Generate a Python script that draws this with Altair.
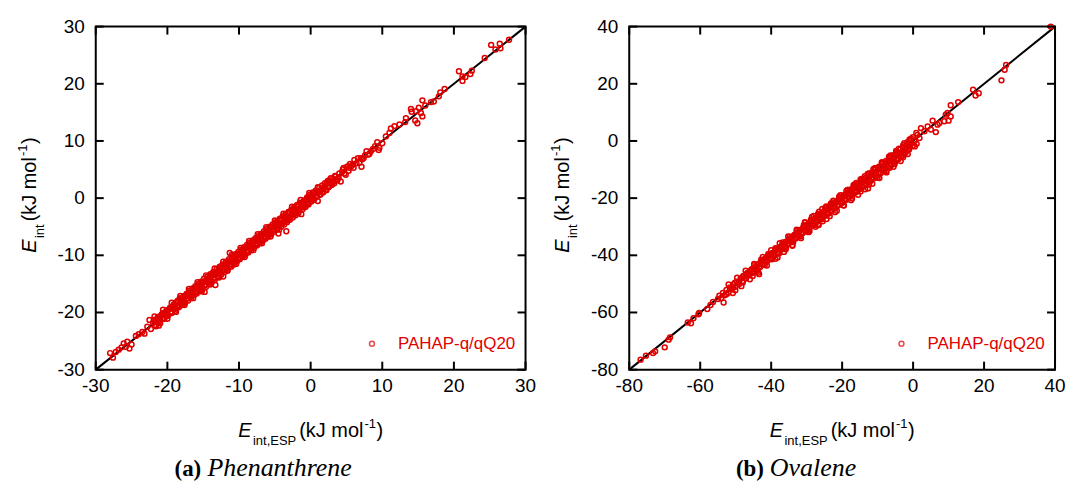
import altair as alt
import pandas as pd

RED = "#e00000"
SANS = "Liberation Sans"
SERIF = "Liberation Serif"
H = 344
W_LEFT, W_RIGHT = 431, 427

# ---------------- data ----------------
phen_domain = [-30, 30]
phen_ticks = [-30, -20, -10, 0, 10, 20, 30]
phen_tick_labels = ["-30", "-20", "-10", "0", "10", "20", "30"]
oval_domain = [-80, 40]
oval_ticks = [-80, -60, -40, -20, 0, 20, 40]
oval_tick_labels = ["-80", "-60", "-40", "-20", "0", "20", "40"]
legend_label = "PAHAP-q/qQ20"

# Phenanthrene: (E_int,ESP , E_int)
phen_tails = [
    (-28.0, -27.1), (-27.6, -27.9), (-27.2, -26.9), (-26.8, -26.5), (-26.4, -26.1), (-26.1, -25.4),
    (-25.8, -26.0), (-25.6, -25.1), (-25.3, -26.3), (-25.0, -25.6), (-24.4, -24.1), (-24.0, -23.8),
    (-23.5, -23.4), (-23.2, -23.7), (-22.8, -22.5), (-22.5, -21.3), (-22.3, -22.9),
    (8.0, 7.6), (8.4, 8.2), (8.7, 8.6), (9.0, 9.1), (9.3, 9.8), (9.5, 8.4), (9.6, 8.8), (10.0, 9.6),
    (10.5, 10.8), (11.0, 11.4), (11.2, 12.2), (11.7, 12.6), (12.4, 12.9), (13.2, 13.3), (13.3, 14.0),
    (14.0, 15.6), (14.1, 15.1), (14.6, 13.6), (14.7, 15.2), (14.9, 13.1), (15.1, 15.8), (15.4, 14.9),
    (15.6, 14.3), (15.6, 17.1), (16.0, 16.2), (16.8, 16.8), (17.2, 16.9), (17.9, 17.8), (18.1, 18.5),
    (18.7, 19.1), (20.7, 22.2), (21.2, 21.3), (21.2, 20.5), (21.6, 21.2), (22.3, 21.7), (22.5, 22.3),
    (24.3, 24.5), (25.2, 26.8), (25.8, 26.0), (26.4, 27.0), (26.5, 26.2), (27.7, 27.7),
]
phen_band_a = [
    (-22.0, -21.8), (-21.7, -22.2), (-21.4, -21.0), (-21.1, -21.5), (-20.8, -20.4), (-20.6, -21.0),
    (-20.3, -20.0), (-20.0, -20.6), (-19.8, -19.5), (-19.5, -19.9), (-19.3, -19.0), (-19.0, -19.4),
    (-18.8, -18.3), (-18.5, -18.9), (-18.3, -17.6), (-18.1, -18.5), (-17.8, -17.9), (-17.6, -18.4),
    (-17.4, -17.0), (-17.2, -17.5), (-17.0, -16.6), (-16.8, -17.2), (-16.6, -16.3), (-16.4, -16.9),
    (-16.2, -15.8), (-16.0, -16.4), (-15.8, -15.5), (-15.6, -16.1), (-15.4, -15.0), (-15.2, -15.7),
    (-15.0, -14.6), (-14.8, -16.4), (-14.7, -15.2), (-14.5, -14.2), (-14.3, -14.8), (-14.1, -13.8),
    (-13.9, -14.5), (-13.7, -13.3), (-13.5, -14.0), (-13.3, -15.2), (-13.2, -12.9), (-13.0, -13.6),
    (-12.8, -12.3), (-12.6, -13.1), (-12.4, -12.0), (-12.2, -13.7), (-12.1, -12.5), (-11.9, -11.6),
    (-11.7, -12.2), (-11.5, -11.1), (-11.3, -9.6), (-11.2, -11.8), (-11.0, -10.7), (-10.8, -11.3),
    (-10.6, -10.3), (-10.4, -10.9), (-10.2, -9.8), (-10.0, -10.5), (-9.8, -9.5), (-9.6, -10.1),
    (-9.4, -9.1), (-9.2, -9.7), (-9.0, -8.7), (-8.8, -9.3), (-8.6, -8.2), (-8.4, -8.8), (-8.2, -7.9),
    (-8.0, -8.5), (-7.8, -7.4), (-7.6, -8.1), (-7.4, -7.1), (-7.2, -7.7), (-7.0, -6.6), (-6.8, -7.3),
    (-6.6, -6.3), (-6.4, -6.9), (-6.2, -5.8), (-6.0, -6.5), (-5.8, -5.5), (-5.6, -6.1), (-5.4, -5.0),
    (-5.2, -5.6), (-5.0, -4.6), (-4.8, -5.3), (-4.6, -4.2), (-4.5, -6.2), (-4.4, -4.8), (-4.2, -3.8),
    (-4.0, -4.5), (-3.8, -3.5), (-3.6, -4.1), (-3.4, -5.8), (-3.4, -3.1), (-3.2, -3.7), (-3.0, -2.6),
    (-2.8, -3.3), (-2.6, -2.3), (-2.4, -2.9), (-2.2, -1.8), (-2.0, -2.5), (-1.8, -1.5), (-1.6, -2.1),
    (-1.4, -1.0), (-1.3, -2.8), (-1.2, -1.6), (-1.0, -0.6), (-0.8, -1.2), (-0.6, -0.3), (-0.4, -0.9),
    (-0.2, 0.2), (0.0, -0.5), (0.2, 0.5), (0.4, -0.1), (0.6, 0.8), (0.8, 0.2), (1.0, -0.5), (1.1, 1.2),
    (1.3, 0.6), (1.5, 1.6), (1.7, 1.0), (1.9, 2.1), (2.1, 1.5), (2.3, 2.6), (2.5, 1.9), (2.7, 2.9),
    (2.9, 2.3), (3.1, 3.4), (3.3, 2.6), (3.5, 3.8), (3.7, 3.1), (4.0, 4.3), (4.2, 2.9), (4.4, 4.6),
    (4.7, 4.3), (5.0, 5.4), (5.3, 4.8), (5.4, 5.3), (5.7, 5.6), (5.9, 5.9), (6.1, 6.7), (6.4, 6.1),
    (6.8, 6.2), (7.0, 7.0), (7.1, 5.5), (7.4, 7.0), (7.6, 7.5),
]
phen_band_b = [
    (-21.9, -21.3), (-21.6, -22.4), (-21.3, -20.8), (-21.0, -21.9), (-20.7, -20.2), (-20.4, -21.1),
    (-20.1, -19.6), (-19.9, -20.5), (-19.6, -19.1), (-19.4, -20.1), (-19.1, -18.6), (-18.9, -19.7),
    (-18.6, -18.0), (-18.4, -19.1), (-18.2, -17.5), (-17.9, -18.7), (-17.7, -17.1), (-17.5, -18.2),
    (-17.3, -16.7), (-17.1, -17.9), (-16.9, -16.2), (-16.7, -17.5), (-16.5, -15.8), (-16.3, -17.0),
    (-16.1, -15.4), (-15.9, -16.7), (-15.7, -15.0), (-15.5, -16.3), (-15.3, -14.6), (-15.1, -15.9),
    (-14.9, -14.1), (-14.6, -15.5), (-14.4, -13.7), (-14.2, -15.0), (-14.0, -13.3), (-13.8, -14.7),
    (-13.6, -12.9), (-13.4, -14.3), (-13.1, -12.4), (-12.9, -13.8), (-12.7, -12.0), (-12.5, -13.4),
    (-12.3, -11.6), (-12.0, -12.9), (-11.8, -11.1), (-11.6, -12.5), (-11.4, -10.7), (-11.1, -12.0),
    (-10.9, -10.2), (-10.7, -11.6), (-10.5, -9.8), (-10.3, -11.1), (-10.1, -9.4), (-9.9, -10.7),
    (-9.7, -9.0), (-9.5, -10.3), (-9.3, -8.6), (-9.1, -9.9), (-8.9, -8.2), (-8.7, -9.5), (-8.5, -7.8),
    (-8.3, -9.1), (-8.1, -7.4), (-7.9, -8.7), (-7.7, -7.0), (-7.5, -8.3), (-7.3, -6.6), (-7.1, -7.9),
    (-6.9, -6.2), (-6.7, -7.5), (-6.5, -5.8), (-6.3, -7.1), (-6.1, -5.4), (-5.9, -6.7), (-5.7, -5.0),
    (-5.5, -6.3), (-5.3, -4.6), (-5.1, -5.9), (-4.9, -4.2), (-4.7, -5.5), (-4.3, -3.6), (-4.1, -5.0),
    (-3.9, -3.2), (-3.7, -4.6), (-3.5, -2.8), (-3.3, -4.2), (-3.1, -2.4), (-2.9, -3.8), (-2.7, -2.0),
    (-2.5, -3.4), (-2.3, -1.6), (-2.1, -3.0), (-1.9, -1.2), (-1.7, -2.6), (-1.5, -0.8), (-1.1, -1.9),
    (-0.9, -0.4), (-0.7, -1.5), (-0.5, 0.1), (-0.3, -1.1), (-0.1, 0.6), (0.1, -0.6), (0.3, 1.0),
    (0.5, -0.2), (0.7, 1.3), (0.9, 0.4), (1.2, 1.8), (1.4, 0.7), (1.6, 2.2), (1.8, 1.1), (2.0, 2.6),
    (2.2, 1.4), (2.4, 3.0), (2.6, 2.1), (2.8, 3.5), (3.0, 2.4), (3.4, 3.9), (3.8, 3.4), (4.5, 5.0),
    (4.9, 4.1), (5.5, 6.0), (6.0, 5.3), (6.6, 7.0), (7.2, 6.8), (7.8, 8.2), (8.2, 7.7),
]
phen_band_c = [
    (-21.8, -20.7), (-21.5, -21.6), (-21.2, -22.3), (-20.9, -20.6), (-20.6, -19.5), (-20.3, -20.4),
    (-20.0, -21.1), (-19.7, -19.4), (-19.4, -18.3), (-19.1, -19.2), (-18.8, -19.9), (-18.5, -18.2),
    (-18.2, -17.1), (-17.9, -18.0), (-17.6, -18.7), (-17.3, -17.0), (-17.0, -15.9), (-16.7, -16.8),
    (-16.4, -17.5), (-16.1, -15.8), (-15.8, -14.7), (-15.5, -15.6), (-15.2, -16.3), (-14.9, -14.6),
    (-14.6, -13.5), (-14.3, -14.4), (-14.0, -15.1), (-13.7, -13.4), (-13.4, -12.3), (-13.1, -13.2),
    (-12.8, -13.9), (-12.5, -12.2), (-12.2, -11.1), (-11.9, -12.0), (-11.6, -12.7), (-11.3, -11.0),
    (-11.0, -9.9), (-10.7, -10.8), (-10.4, -11.5), (-10.1, -9.8), (-9.8, -8.7), (-9.5, -9.6),
    (-9.2, -10.3), (-8.9, -8.6), (-8.6, -7.5), (-8.3, -8.4), (-8.0, -9.1), (-7.7, -7.4), (-7.4, -6.3),
    (-7.1, -7.2), (-6.8, -7.9), (-6.5, -6.2), (-6.2, -5.1), (-5.9, -6.0), (-5.6, -6.7), (-5.3, -5.0),
    (-5.0, -3.9), (-4.7, -4.8), (-4.4, -5.5), (-4.1, -3.8), (-3.8, -2.7), (-3.5, -3.6), (-3.2, -3.9),
    (-2.9, -2.6), (-2.6, -1.5), (-2.3, -2.4), (-2.0, -2.7), (-1.7, -1.4), (-1.4, -0.3), (-1.1, -1.2),
    (-0.8, -1.5), (-0.5, -0.2), (-0.2, 0.9), (0.1, 0.0), (0.4, -0.3), (0.7, 1.0), (1.0, 1.9),
    (1.3, 1.2), (2.0, 1.9), (2.6, 3.1), (3.2, 2.9), (3.9, 3.6), (4.6, 5.3), (5.2, 5.6),
]
phen_band_d = [
    (-21.65, -21.3), (-21.35, -21.7), (-21.05, -20.7), (-20.75, -21.1), (-20.45, -20.1),
    (-20.15, -20.5), (-19.85, -19.5), (-19.55, -19.9), (-19.25, -18.9), (-18.95, -19.3),
    (-18.65, -18.3), (-18.35, -18.7), (-18.05, -17.7), (-17.75, -18.1), (-17.45, -17.1),
    (-17.15, -17.5), (-16.85, -16.5), (-16.55, -16.9), (-16.25, -15.9), (-15.95, -16.3),
    (-15.65, -15.3), (-15.35, -15.7), (-15.05, -14.7), (-14.75, -15.1), (-14.45, -14.1),
    (-14.15, -14.5), (-13.85, -13.5), (-13.55, -13.9), (-13.25, -12.9), (-12.95, -13.3),
    (-12.65, -12.3), (-12.35, -12.7), (-12.05, -11.7), (-11.75, -12.1), (-11.45, -11.1),
    (-11.15, -11.5), (-10.85, -10.5), (-10.55, -10.9), (-10.25, -9.9), (-9.95, -10.3),
    (-9.65, -9.3), (-9.35, -9.7), (-9.05, -8.7), (-8.75, -9.1), (-8.45, -8.1), (-8.15, -8.5),
    (-7.85, -7.5), (-7.55, -7.9), (-7.25, -6.9), (-6.95, -7.3), (-6.65, -6.3), (-6.35, -6.7),
    (-6.05, -5.7), (-5.75, -6.1), (-5.45, -5.1), (-5.15, -5.5), (-4.85, -4.5), (-4.55, -4.9),
    (-4.25, -3.9), (-3.95, -4.3), (-3.65, -3.3), (-3.35, -3.7), (-3.05, -2.7), (-2.75, -3.1),
    (-2.45, -2.1), (-2.15, -2.5), (-1.85, -1.5), (-1.55, -1.9), (-1.25, -0.9), (-0.95, -1.3),
    (-0.65, -0.3), (-0.35, -0.7), (-0.05, 0.3), (0.25, -0.1),
]

# Ovalene: (E_int,ESP , E_int)
oval_tails = [
    (-76.8, -76.5), (-75.3, -75.1), (-73.3, -74.2), (-72.7, -73.6), (-70.0, -72.2), (-68.9, -69.5),
    (-68.5, -68.7), (-63.5, -63.5), (-62.6, -63.8), (-61.9, -62.0), (-60.5, -60.6), (-60.3, -60.2),
    (-58.0, -58.8), (-57.1, -57.4), (-56.4, -56.3), (-55.0, -55.3), (-53.4, -56.5), (-52.6, -53.6),
    (-50.8, -51.3), (-50.1, -52.2), (-48.0, -49.5), (-45.2, -47.2), (-43.4, -46.6), (-38.2, -40.8),
    (-35.9, -37.9), (-34.0, -36.7), (-30.3, -31.3), (-26.6, -29.4), (-12.7, -16.6), (-6.6, -9.4),
    (-0.1, 1.3), (0.9, 2.8), (1.8, 1.0), (2.2, 4.5), (3.2, 3.4), (4.1, 5.1), (5.0, 4.0), (5.5, 7.1),
    (6.4, 3.1), (6.9, 5.7), (7.4, 6.3), (8.8, 6.9), (9.2, 9.2), (9.7, 9.8), (10.0, 7.1), (10.6, 8.6),
    (10.6, 12.5), (12.7, 13.6), (16.9, 17.9), (17.6, 15.9), (18.5, 16.7), (24.9, 21.2), (25.8, 24.9),
    (26.2, 26.6), (38.8, 40.0),
]
oval_band_a = [
    (-54.6, -54.1), (-54.1, -55.0), (-53.6, -53.2), (-53.1, -54.0), (-52.6, -52.1), (-52.1, -53.1),
    (-51.6, -51.2), (-51.1, -52.0), (-50.6, -50.1), (-50.1, -51.0), (-49.6, -49.2), (-49.1, -50.1),
    (-48.6, -48.1), (-48.1, -49.0), (-47.6, -47.2), (-47.1, -48.1), (-46.6, -46.1), (-46.1, -47.0),
    (-45.6, -45.1), (-45.1, -46.1), (-44.6, -44.2), (-44.1, -45.0), (-43.6, -43.1), (-43.1, -44.1),
    (-42.6, -42.2), (-42.1, -43.0), (-41.6, -41.1), (-41.1, -42.1), (-40.6, -40.2), (-40.1, -41.1),
    (-39.6, -39.2), (-39.1, -40.1), (-38.6, -38.1), (-38.1, -39.1), (-37.6, -37.2), (-37.1, -38.0),
    (-36.6, -36.1), (-36.1, -37.1), (-35.6, -35.2), (-35.1, -36.0), (-34.6, -34.1), (-34.1, -35.1),
    (-33.6, -33.2), (-33.1, -34.1), (-32.6, -32.0), (-32.1, -33.2), (-31.6, -31.0), (-31.1, -32.2),
    (-30.6, -30.1), (-30.1, -31.3), (-29.6, -29.0), (-29.1, -30.2), (-28.6, -28.1), (-28.1, -29.3),
    (-27.6, -27.0), (-27.1, -28.3), (-26.6, -26.0), (-26.1, -27.4), (-25.6, -25.0), (-25.1, -26.4),
    (-24.6, -24.0), (-24.1, -25.5), (-23.6, -23.0), (-23.1, -24.5), (-22.6, -22.0), (-22.1, -23.6),
    (-21.6, -21.0), (-21.1, -22.6), (-20.6, -20.0), (-20.1, -21.7), (-19.6, -19.0), (-19.1, -20.7),
    (-18.6, -18.0), (-18.1, -19.8), (-17.6, -17.0), (-17.1, -18.8), (-16.6, -16.0), (-16.1, -17.9),
    (-15.6, -15.0), (-15.1, -16.9), (-14.6, -14.0), (-14.1, -16.0), (-13.6, -13.0), (-13.1, -15.0),
    (-12.6, -12.0), (-12.1, -14.1), (-11.6, -11.0), (-11.1, -13.1), (-10.6, -10.0), (-10.1, -12.2),
    (-9.6, -9.0), (-9.1, -11.2), (-8.6, -8.0), (-8.1, -10.3), (-7.6, -7.0), (-7.1, -9.3), (-6.6, -6.0),
    (-6.1, -8.4), (-5.6, -5.0), (-5.1, -7.4), (-4.6, -4.0), (-4.1, -6.3), (-3.6, -3.0), (-3.1, -5.2),
    (-2.6, -2.1), (-2.1, -4.0), (-1.6, -1.5), (-1.1, -2.9), (-0.6, -0.9), (-0.1, -1.8), (0.4, 0.0),
    (1.0, -1.0), (-2.5, -0.8), (-1.0, 0.5), (1.2, 2.1),
]
oval_band_b = [
    (-47.9, -47.4), (-47.4, -47.9), (-46.9, -46.4), (-46.4, -46.9), (-45.9, -45.4), (-45.4, -45.9),
    (-44.9, -44.4), (-44.4, -44.9), (-43.9, -43.4), (-43.4, -43.9), (-42.9, -42.4), (-42.4, -42.9),
    (-41.9, -41.4), (-41.4, -41.9), (-40.9, -40.4), (-40.4, -40.9), (-39.9, -39.4), (-39.4, -39.9),
    (-38.9, -38.4), (-38.4, -38.9), (-37.9, -37.4), (-37.4, -37.9), (-36.9, -36.4), (-36.4, -36.9),
    (-35.9, -35.4), (-35.4, -35.9), (-34.9, -34.4), (-34.4, -34.9), (-33.9, -33.4), (-33.4, -33.9),
    (-32.9, -32.4), (-32.4, -32.9), (-31.9, -31.4), (-31.4, -31.9), (-30.9, -30.4), (-30.4, -30.9),
    (-29.9, -29.4), (-29.4, -29.9), (-28.9, -28.5), (-28.4, -29.1), (-27.9, -27.5), (-27.4, -28.1),
    (-26.9, -26.5), (-26.4, -27.2), (-25.9, -25.5), (-25.4, -26.3), (-24.9, -24.5), (-24.4, -25.3),
    (-23.9, -23.5), (-23.4, -24.4), (-22.9, -22.6), (-22.4, -23.4), (-21.9, -21.6), (-21.4, -22.5),
    (-20.9, -20.6), (-20.4, -21.5), (-19.9, -19.6), (-19.4, -20.6), (-18.9, -18.7), (-18.4, -19.6),
    (-17.9, -17.7), (-17.4, -18.7), (-16.9, -16.7), (-16.4, -17.8), (-15.9, -15.8), (-15.4, -16.8),
    (-14.9, -14.8), (-14.4, -15.9), (-13.9, -13.8), (-13.4, -14.9), (-12.9, -12.9), (-12.4, -14.0),
    (-11.9, -11.9), (-11.4, -13.0), (-10.9, -10.9), (-10.4, -12.1), (-9.9, -10.0), (-9.4, -11.1),
    (-8.9, -9.0), (-8.4, -10.2), (-7.9, -8.0), (-7.4, -9.2), (-6.9, -7.1), (-6.4, -8.3), (-5.9, -6.1),
    (-5.4, -7.3), (-4.9, -5.1), (-4.4, -6.4), (-3.9, -4.2), (-3.4, -5.4), (-2.9, -3.2), (-2.4, -4.4),
    (-1.9, -2.3), (-1.4, -3.1),
]
oval_band_c = [
    (-52.0, -50.2), (-51.4, -51.7), (-50.8, -53.2), (-50.2, -49.6), (-49.6, -47.8), (-49.0, -49.3),
    (-48.4, -50.8), (-47.8, -47.2), (-47.2, -45.4), (-46.6, -46.9), (-46.0, -48.4), (-45.4, -44.8),
    (-44.8, -43.0), (-44.2, -44.5), (-43.6, -46.0), (-43.0, -42.4), (-42.4, -40.6), (-41.8, -42.1),
    (-41.2, -43.6), (-40.6, -40.0), (-40.0, -38.2), (-39.4, -39.7), (-38.8, -41.2), (-38.2, -37.6),
    (-37.6, -35.8), (-37.0, -37.3), (-36.4, -38.8), (-35.8, -35.2), (-35.2, -33.4), (-34.6, -34.9),
    (-34.0, -36.4), (-33.4, -32.8), (-32.8, -31.0), (-32.2, -32.5), (-31.6, -34.0), (-31.0, -30.4),
    (-30.4, -28.6), (-29.8, -30.1), (-29.2, -31.6), (-28.6, -28.0), (-28.0, -26.2), (-27.4, -27.7),
    (-26.8, -29.2), (-26.2, -25.6), (-25.6, -23.8), (-25.0, -25.8), (-24.4, -27.3), (-23.8, -23.7),
    (-23.2, -21.9), (-22.6, -23.4), (-22.0, -24.9), (-21.4, -21.3), (-20.8, -19.5), (-20.2, -21.0),
    (-19.6, -22.5), (-19.0, -18.9), (-18.4, -17.1), (-17.8, -18.6), (-17.2, -20.1), (-16.6, -16.5),
    (-16.0, -14.7), (-15.4, -16.2), (-14.8, -17.7), (-14.2, -14.1), (-13.6, -12.3), (-13.0, -13.8),
    (-12.4, -15.3), (-11.8, -11.7), (-11.2, -9.9), (-10.6, -11.4), (-10.0, -12.9), (-9.4, -9.3),
    (-8.8, -7.5), (-8.2, -9.0), (-7.6, -10.5), (-7.0, -6.9), (-6.4, -5.1), (-5.8, -6.6), (-5.2, -8.1),
    (-4.6, -4.5), (-4.0, -2.7), (-3.4, -4.2), (-2.8, -5.7), (-2.2, -2.1), (-1.6, -0.4), (-1.0, -1.7),
]
oval_band_d = [
    (-30.5, -28.4), (-29.5, -31.9), (-28.5, -26.6), (-27.5, -30.0), (-26.5, -24.7), (-25.5, -28.1),
    (-24.5, -22.9), (-23.5, -26.3), (-22.5, -20.9), (-21.5, -24.4), (-20.5, -19.0), (-19.5, -22.6),
    (-18.5, -17.1), (-17.5, -20.7), (-16.5, -15.2), (-15.5, -18.8), (-14.5, -13.3), (-13.5, -16.9),
    (-12.5, -11.4), (-11.5, -15.0), (-10.5, -9.5), (-9.5, -13.0), (-8.5, -7.6), (-7.5, -11.0),
    (-6.5, -5.7), (-5.5, -9.0), (-4.5, -3.8), (-3.5, -7.0), (-2.5, -2.0), (-1.5, -4.6), (-0.5, 0.8),
    (0.5, -1.9),
]
oval_band_e = [
    (-44.8, -43.5), (-43.8, -45.4), (-42.8, -41.5), (-41.8, -43.4), (-40.8, -39.5), (-39.8, -41.4),
    (-38.8, -37.5), (-37.8, -39.4), (-36.8, -35.5), (-35.8, -37.4), (-34.8, -33.5), (-33.8, -35.4),
    (-32.8, -31.5), (-31.8, -33.4), (-30.8, -29.5), (-29.8, -31.4), (-28.8, -27.5), (-27.8, -29.4),
    (-26.8, -25.5), (-25.8, -27.4), (-24.8, -23.5), (-23.8, -25.4), (-22.8, -21.5), (-21.8, -23.4),
    (-20.8, -19.5), (-19.8, -21.4), (-18.8, -17.5), (-17.8, -19.4), (-16.8, -15.5), (-15.8, -17.4),
    (-14.8, -13.5), (-13.8, -15.4), (-12.8, -11.5), (-11.8, -13.4), (-10.8, -9.5), (-9.8, -11.4),
    (-8.8, -7.5), (-7.8, -9.4), (-6.8, -5.5), (-5.8, -7.4), (-4.8, -3.5), (-3.8, -5.4), (-2.8, -1.5),
    (-1.8, -3.4), (-0.8, 0.4),
]

# ---------------- text layout helpers ----------------
ARIAL_W = {"E": .667, "i": .222, "n": .556, "t": .278, ",": .278, "S": .667, "P": .667,
           "(": .333, "k": .5, "J": .5, " ": .278, "m": .833, "o": .556, "l": .222,
           ")": .333, "-": .333, "1": .556}


def tw(s, size):
    return sum(ARIAL_W.get(c, .556) for c in s) * size


MAIN, SMALL = 20, 13


def title_parts(sub):
    # (text, size, baseline shift, italic, gap after)
    return [("E", MAIN, 0.0, True, 1.5), (sub, SMALL, 8.0, False, 3.0),
            ("(kJ mol", MAIN, 0.0, False, 1.0), ("-1", SMALL, -9.0, False, 0.5),
            (")", MAIN, 0.0, False, 0.0)]


def piece(s, x, y, size, angle=0, italic=False, bold=False, font=SANS, color="black"):
    return alt.Chart(pd.DataFrame({"t": [s]})).mark_text(
        align="left", baseline="alphabetic", font=font, fontSize=size,
        fontStyle="italic" if italic else "normal",
        fontWeight="bold" if bold else "normal", angle=angle, color=color,
    ).encode(x=alt.value(x), y=alt.value(y), text="t:N")


def x_title(sub, cx, base):
    parts = title_parts(sub)
    total = sum(tw(p[0], p[1]) + p[4] for p in parts)
    pos = cx - total / 2
    out = []
    for s, size, shift, ital, gap in parts:
        out.append(piece(s, pos, base + shift, size, italic=ital))
        pos += tw(s, size) + gap
    return out


def y_title(sub, cy, base):
    parts = title_parts(sub)
    total = sum(tw(p[0], p[1]) + p[4] for p in parts)
    pos = cy + total / 2
    out = []
    for s, size, shift, ital, gap in parts:
        out.append(piece(s, base + shift, pos, size, angle=270, italic=ital))
        pos -= tw(s, size) + gap
    return out


def panel(point_sets, dom, ticks, tick_labels, W, cap_bold, cap_ital, cap_x, cap_gap, anchor):
    rows = []
    for s in point_sets:
        rows += s
    pts = pd.DataFrame(rows, columns=["x", "y"])
    xsc = alt.Scale(domain=dom, nice=False, zero=False)
    ysc = alt.Scale(domain=dom, nice=False, zero=False)
    X = dict(scale=xsc, axis=None)
    Y = dict(scale=ysc, axis=None)

    diag = alt.Chart(pd.DataFrame({"x": dom, "y": dom})).mark_line(
        color="black", strokeWidth=2).encode(x=alt.X("x:Q", **X), y=alt.Y("y:Q", **Y))
    points = alt.Chart(pts).mark_point(
        shape="circle", filled=False, color=RED, size=24, strokeWidth=1.5, opacity=1).encode(
        x=alt.X("x:Q", **X), y=alt.Y("y:Q", **Y))

    tx = pd.DataFrame({"x": ticks, "lab": tick_labels})
    ty = pd.DataFrame({"y": ticks, "lab": tick_labels})
    rule = dict(color="black", strokeWidth=2)
    t_top = alt.Chart(tx).mark_rule(**rule).encode(
        x=alt.X("x:Q", **X), y=alt.value(0), y2=alt.value(8))
    t_bot = alt.Chart(tx).mark_rule(**rule).encode(
        x=alt.X("x:Q", **X), y=alt.value(H - 8), y2=alt.value(H))
    t_left = alt.Chart(ty).mark_rule(**rule).encode(
        y=alt.Y("y:Q", **Y), x=alt.value(0), x2=alt.value(8))
    t_right = alt.Chart(ty).mark_rule(**rule).encode(
        y=alt.Y("y:Q", **Y), x=alt.value(W - 8), x2=alt.value(W))
    lab_x = alt.Chart(tx).mark_text(
        align="center", baseline="top", font=SANS, fontSize=19, color="black").encode(
        x=alt.X("x:Q", **X), y=alt.value(H + 7), text="lab:N")
    lab_y = alt.Chart(ty).mark_text(
        align="right", baseline="middle", font=SANS, fontSize=19, color="black").encode(
        y=alt.Y("y:Q", **Y), x=alt.value(-11), text="lab:N")

    leg = pd.DataFrame({"label": [legend_label]})
    leg_pt = alt.Chart(leg).mark_point(
        shape="circle", filled=False, color=RED, size=24, strokeWidth=1.5).encode(
        x=alt.value(W - 154), y=alt.value(318))
    leg_tx = alt.Chart(leg).mark_text(
        align="left", baseline="alphabetic", font=SANS, fontSize=17, color=RED).encode(
        x=alt.value(W - 128), y=alt.value(323.5), text="label:N")

    texts = x_title("int,ESP", W / 2, 412) + y_title("int", H / 2 - 3, -60)
    texts += [piece(cap_bold, cap_x, 451, 23, bold=True, font=SERIF),
              piece(cap_ital, cap_x + cap_gap, 451, 26, italic=True, font=SERIF)]

    layers = [diag, points, t_top, t_bot, t_left, t_right, lab_x, lab_y, leg_pt, leg_tx] + texts
    if anchor:
        layers.append(alt.Chart(pd.DataFrame({"k": [0]})).mark_rule(opacity=0).encode(
            x=alt.value(-87), x2=alt.value(-86), y=alt.value(-17), y2=alt.value(-16)))
    return alt.layer(*layers).properties(width=W, height=H)


left = panel([phen_tails, phen_band_a, phen_band_b, phen_band_c, phen_band_d], phen_domain,
             phen_ticks, phen_tick_labels, W_LEFT, "(a)", "Phenanthrene", 79, 33, True)
right = panel([oval_tails, oval_band_a, oval_band_b, oval_band_c, oval_band_d, oval_band_e],
              oval_domain, oval_ticks, oval_tick_labels, W_RIGHT, "(b)", "Ovalene", 107, 34,
              False)

chart = alt.hconcat(left, right, spacing=104, bounds="flush").properties(
    padding=0).configure_view(stroke="black", strokeWidth=2)

chart.save("out.html", embed_options={"renderer": "svg", "actions": False})
